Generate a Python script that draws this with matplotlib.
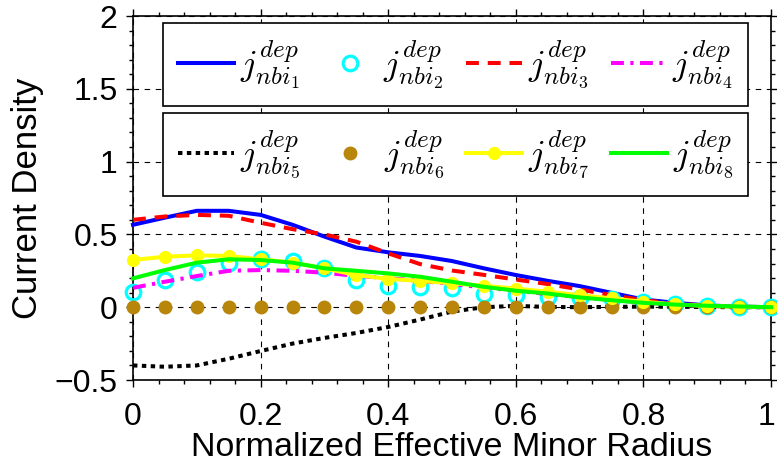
import matplotlib
matplotlib.use("Agg")
import matplotlib.pyplot as plt
from matplotlib.transforms import ScaledTranslation

# Normalized effective minor radius grid
rho = [0.00, 0.05, 0.10, 0.15, 0.20, 0.25, 0.30, 0.35, 0.40, 0.45, 0.50,
       0.55, 0.60, 0.65, 0.70, 0.75, 0.80, 0.85, 0.90, 0.95, 1.00]

# Deposited NBI current density for each beam
j_nbi1 = [0.566, 0.615, 0.662, 0.662, 0.634, 0.566, 0.485, 0.410, 0.377, 0.352, 0.317,
          0.267, 0.221, 0.181, 0.145, 0.099, 0.053, 0.030, 0.012, 0.004, 0.000]
j_nbi2 = [0.106, 0.186, 0.243, 0.301, 0.329, 0.317, 0.267, 0.190, 0.145, 0.140, 0.129,
          0.092, 0.083, 0.071, 0.060, 0.055, 0.037, 0.020, 0.006, 0.002, 0.000]
j_nbi3 = [0.600, 0.623, 0.634, 0.628, 0.580, 0.536, 0.500, 0.450, 0.370, 0.296, 0.252,
          0.222, 0.190, 0.159, 0.122, 0.083, 0.048, 0.025, 0.010, 0.003, 0.000]
j_nbi4 = [0.133, 0.175, 0.214, 0.250, 0.255, 0.250, 0.237, 0.215, 0.200, 0.180, 0.160,
          0.135, 0.113, 0.090, 0.070, 0.050, 0.032, 0.018, 0.008, 0.003, 0.000]
j_nbi5 = [-0.400, -0.409, -0.400, -0.354, -0.301, -0.250, -0.211, -0.177, -0.136, -0.085, -0.030,
          0.000, 0.009, 0.002, 0.000, 0.002, 0.004, 0.003, 0.001, 0.000, 0.000]
j_nbi6 = [0.0] * 21
j_nbi7 = [0.324, 0.347, 0.356, 0.352, 0.329, 0.306, 0.267, 0.220, 0.195, 0.180, 0.165,
          0.147, 0.128, 0.106, 0.083, 0.060, 0.037, 0.020, 0.008, 0.003, 0.000]
j_nbi8 = [0.198, 0.255, 0.306, 0.329, 0.324, 0.306, 0.267, 0.250, 0.232, 0.209, 0.175,
          0.140, 0.113, 0.094, 0.067, 0.048, 0.030, 0.018, 0.010, 0.005, 0.000]

labels = [r"$j^{dep}_{nbi_{%d}}$" % k for k in range(1, 9)]

x_ticks = [0, 0.2, 0.4, 0.6, 0.8, 1.0]
x_ticklabels = ["0", "0.2", "0.4", "0.6", "0.8", "1"]
y_ticks = [-0.5, 0, 0.5, 1.0, 1.5, 2.0]
y_ticklabels = ["\u22120.5", "0", "0.5", "1", "1.5", "2"]

plt.rcParams["font.family"] = ["Liberation Sans", "DejaVu Sans"]
plt.rcParams["mathtext.fontset"] = "cm"

W, H = 777, 469
fig = plt.figure(figsize=(W / 100, H / 100), dpi=100)
ax = fig.add_axes([133 / W, 89 / H, 638 / W, 364 / H])

lw = 2.9
styles = [
    dict(color=(0, 0, 1), lw=lw, ls="-"),
    dict(color=(0, 1, 1), ls="none", marker="o", ms=10.5, mfc="none", mew=2.3),
    dict(color=(1, 0, 0), lw=lw, ls=(0, (3.2, 2.2))),
    dict(color=(1, 0, 1), lw=lw, ls=(0, (3.2, 1.6, 0.8, 1.6))),
    dict(color=(0, 0, 0), lw=lw, ls=(0, (1.1, 1.1))),
    dict(color="#B8860B", ls="none", marker="o", ms=9, mec="#B8860B"),
    dict(color=(1, 1, 0), lw=lw, ls="-", marker="o", ms=8.5),
    dict(color=(0, 1, 0), lw=lw, ls="-"),
]
series = [j_nbi1, j_nbi2, j_nbi3, j_nbi4, j_nbi5, j_nbi6, j_nbi7, j_nbi8]
lines = []
for k, (ys, st) in enumerate(zip(series, styles)):
    (ln,) = ax.plot(rho, ys, label=labels[k], zorder=3 + k * 0.1, clip_on=False, **st)
    lines.append(ln)

ax.set_xlim(0, 1)
ax.set_ylim(-0.5, 2)
ax.set_xticks(x_ticks)
ax.set_xticklabels(x_ticklabels)
ax.set_yticks(y_ticks)
ax.set_yticklabels(y_ticklabels)
ax.set_xticks([i * 0.04 for i in range(26)], minor=True)
ax.set_yticks([-0.5 + i * 0.1 for i in range(26)], minor=True)
ax.tick_params(which="both", direction="out", top=True, right=True,
               labelsize=23, width=1.0, color="black")
ax.tick_params(which="major", length=5)
ax.tick_params(axis="x", which="major", pad=10.5)
ax.tick_params(axis="y", which="major", pad=6)
ax.tick_params(which="minor", length=3)
for sp in ax.spines.values():
    sp.set_linewidth(1.2)

# keep the last x tick label inside the canvas
last = ax.get_xticklabels()[-1]
last.set_transform(last.get_transform() + ScaledTranslation(-4 / 100, 0, fig.dpi_scale_trans))

ax.grid(True, which="major", color="black", lw=0.8, ls=(0, (5, 5)), zorder=1)

ax.set_xlabel("Normalized Effective Minor Radius", fontsize=24.5, labelpad=0.5)
ax.set_ylabel("Current Density", fontsize=25, labelpad=8)

# Two framed legend rows above the curves
leg_fs = 26
fs_px = leg_fs * fig.dpi / 72
box_h = 83
x0 = 163 / W
w = 585 / W


def make_legend(handles, names, top_px, pad):
    lg = fig.legend(handles, names, ncol=4, mode="expand", loc="upper left",
                    bbox_to_anchor=(x0, 1 - (top_px + box_h) / H, w, box_h / H),
                    fontsize=leg_fs, handlelength=1.55, handletextpad=0.15,
                    borderpad=pad, fancybox=False, shadow=False, framealpha=1,
                    edgecolor="black", borderaxespad=0)
    lg.get_frame().set_linewidth(1.2)
    lg.set_zorder(10)
    return lg


def fitted_legend(handles, names, top_px):
    pad = 0.4
    lg = make_legend(handles, names, top_px, pad)
    fig.canvas.draw()
    hpx = lg.get_window_extent().height
    lg.remove()
    pad = pad + (box_h - hpx) / 2 / fs_px
    return make_legend(handles, names, top_px, pad)


fitted_legend(lines[:4], labels[:4], 23)
fitted_legend(lines[4:], labels[4:], 113)

fig.savefig("out.png", dpi=100)
